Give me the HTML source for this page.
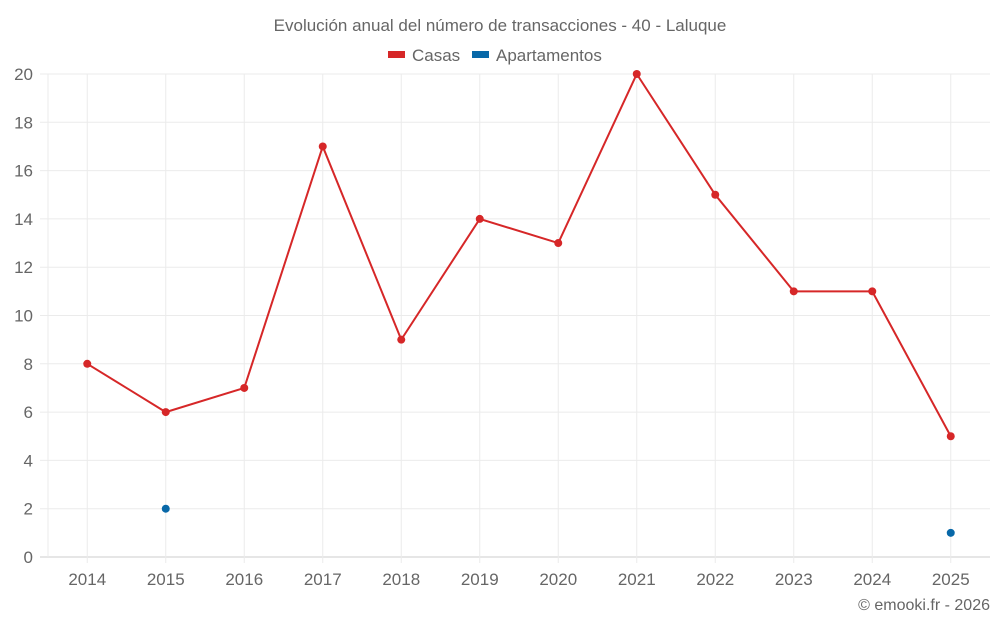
<!DOCTYPE html>
<html><head><meta charset="utf-8"><style>
body{margin:0;background:#fff;font-family:"Liberation Sans",sans-serif}
svg text{font-family:"Liberation Sans",sans-serif;fill:#666}
</style></head><body>
<svg id="c" width="1000" height="625" xmlns="http://www.w3.org/2000/svg">
<text x="500" y="31" text-anchor="middle" font-size="17">Evolución anual del número de transacciones - 40 - Laluque</text>
<g>
<g><rect x="388" y="51" width="17" height="7" fill="#d62728"></rect><text x="412" y="61" font-size="17">Casas</text></g>
<g><rect x="472" y="51" width="17" height="7" fill="#0868a8"></rect><text x="496" y="61" font-size="17">Apartamentos</text></g>
</g>
<g id="grid"></g><g id="axes"></g><g id="marks"></g>
<text x="990" y="610" text-anchor="end" font-size="16">© emooki.fr - 2026</text>
</svg>
<script>
const years=["2014","2015","2016","2017","2018","2019","2020","2021","2022","2023","2024","2025"];
const casas=[8,6,7,17,9,14,13,20,15,11,11,5];
const apartamentos=[null,2,null,null,null,null,null,null,null,null,null,1];
const yTicks=[0,2,4,6,8,10,12,14,16,18,20];
const L=48,R=990,T=74,B=557,yMax=20;
const bw=(R-L)/years.length;
const x=i=>L+bw*(i+0.5);
const y=v=>B-(v/yMax)*(B-T);
const NS="http://www.w3.org/2000/svg";
function mk(p,tag,a){const e=document.createElementNS(NS,tag);for(const k in a)e.setAttribute(k,a[k]);p.appendChild(e);return e;}
const g=document.getElementById('grid'),ax=document.getElementById('axes'),m=document.getElementById('marks');
yTicks.forEach(t=>{
 const l=mk(g,'line',{x1:40,x2:R,y1:y(t),y2:y(t),stroke:t===0?'#ccc':'#ebebeb'});
 
 
 const tx=mk(ax,'text',{x:33,y:y(t)+6,'text-anchor':'end','font-size':17});tx.textContent=t;
 
 
});
const la=mk(g,'line',{x1:L,x2:L,y1:T,y2:B,stroke:'#ebebeb'});


years.forEach((yr,i)=>{
 const l=mk(g,'line',{x1:x(i),x2:x(i),y1:T,y2:B+6,stroke:'#ebebeb'});
 
 
 const tx=mk(ax,'text',{x:x(i),y:585,'text-anchor':'middle','font-size':17});tx.textContent=yr;
 
 
});
let d='';casas.forEach((v,i)=>{if(v!=null)d+=(d?'L':'M')+x(i)+','+y(v);});
const p=mk(m,'path',{d:d,fill:'none',stroke:'#d62728','stroke-width':2});


casas.forEach((v,i)=>{if(v==null)return;const c=mk(m,'circle',{cx:x(i),cy:y(v),r:4,fill:'#d62728'});
 
 });
apartamentos.forEach((v,i)=>{if(v==null)return;const c=mk(m,'circle',{cx:x(i),cy:y(v),r:4,fill:'#0868a8'});
 
 });
</script>
</body></html>
